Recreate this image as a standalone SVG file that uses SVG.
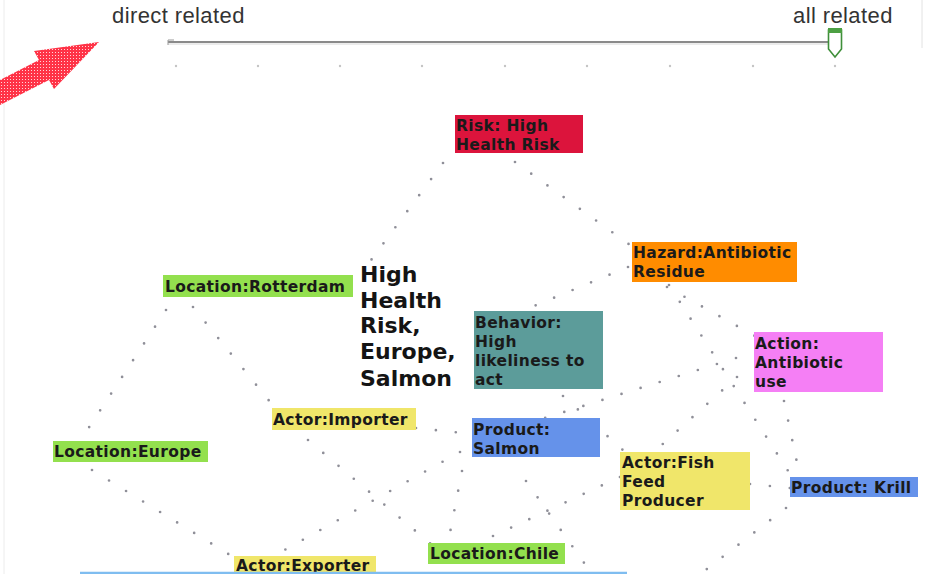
<svg xmlns="http://www.w3.org/2000/svg" width="925" height="574" viewBox="0 0 925 574">
<defs>
<pattern id="hatch" width="3" height="3" patternUnits="userSpaceOnUse">
<rect width="3" height="3" fill="#ff3347"/>
<rect x="1" y="1" width="1" height="1" fill="#ffd6da"/>
</pattern>
<style>
.lbl{font-family:"DejaVu Sans","Verdana",sans-serif;font-weight:bold;font-size:15.5px;letter-spacing:0.35px;fill:#1a1a1a}
.big{font-family:"DejaVu Sans","Verdana",sans-serif;font-weight:bold;font-size:22px;fill:#141414}
.top{font-family:"Liberation Sans","Arial",sans-serif;font-size:22px;letter-spacing:0.4px;fill:#333}
.edge{stroke:#8f8f98;stroke-width:2.7;stroke-linecap:round;stroke-dasharray:0 20;fill:none}
.tick{fill:#c4c4c4}
.green{fill:#93e04e}
.yellow{fill:#f0e66a}
.blue{fill:#6592ea}
</style>
</defs>
<rect width="925" height="574" fill="#ffffff"/>
<line x1="4" y1="0" x2="4" y2="574" stroke="#ececec" stroke-width="1"/>
<line x1="922" y1="0" x2="922" y2="48" stroke="#e2e2e2" stroke-width="1"/>

<g id="slider">
<text class="top" x="112" y="23">direct related</text>
<text class="top" x="793" y="23">all related</text>
<rect x="168" y="41" width="664" height="2" fill="#8a8a8a"/>
<line x1="168" y1="44" x2="832" y2="44" stroke="#d8d8d8" stroke-width="1"/>
<path d="M168,40 h6 M168,40 v5" stroke="#999" stroke-width="1" fill="none"/>
<g class="tick">
<circle cx="176" cy="66" r="1.2"/><circle cx="258" cy="66" r="1.2"/><circle cx="340" cy="66" r="1.2"/>
<circle cx="422" cy="66" r="1.2"/><circle cx="505" cy="66" r="1.2"/><circle cx="587" cy="66" r="1.2"/>
<circle cx="670" cy="66" r="1.2"/><circle cx="753" cy="66" r="1.2"/><circle cx="835" cy="66" r="1.2"/>
</g>
<path d="M828.5,30 h13 v19 l-6.5,8 l-6.5,-8 z" fill="#ffffff" stroke="#3f8f3a" stroke-width="1.6"/>
<rect x="828" y="28" width="14" height="5" fill="#4da043"/>
</g>

<g id="red-arrow">
<polygon points="0,80 39,60 34,51 99,42 54,89 49,80 0,105" fill="url(#hatch)"/>
</g>

<g id="connectors">
<line class="edge" x1="443" y1="163" x2="360" y2="275"/>
<line class="edge" x1="515" y1="162" x2="630" y2="245"/>
<line class="edge" x1="628" y1="267" x2="522" y2="311"/>
<line class="edge" x1="667" y1="287" x2="755" y2="336"/>
<line class="edge" x1="669" y1="285" x2="792" y2="477"/>
<line class="edge" x1="736" y1="358" x2="545" y2="418"/>
<line class="edge" x1="737" y1="377" x2="655" y2="451"/>
<line class="edge" x1="784" y1="401" x2="800" y2="477"/>
<line class="edge" x1="563" y1="396" x2="625" y2="452"/>
<line class="edge" x1="166" y1="310" x2="80" y2="441"/>
<line class="edge" x1="193" y1="307" x2="275" y2="408"/>
<line class="edge" x1="92" y1="470" x2="238" y2="560"/>
<line class="edge" x1="308" y1="440" x2="432" y2="545"/>
<line class="edge" x1="416" y1="428" x2="472" y2="434"/>
<line class="edge" x1="460" y1="452" x2="272" y2="557"/>
<line class="edge" x1="462" y1="471" x2="448" y2="543"/>
<line class="edge" x1="493" y1="536" x2="620" y2="477"/>
<line class="edge" x1="750" y1="484" x2="790" y2="488"/>
<line class="edge" x1="786" y1="508" x2="690" y2="582"/>
<line class="edge" x1="526" y1="481" x2="592" y2="574"/>
</g>

<g id="risk">
<rect x="455" y="115" width="128" height="38" fill="#dc143c"/>
<text class="lbl" x="456" y="131">Risk: High</text>
<text class="lbl" x="456" y="150">Health Risk</text>
</g>
<g id="hazard">
<rect x="632" y="242" width="165" height="40" fill="#ff8c00"/>
<text class="lbl" x="633" y="258">Hazard:Antibiotic</text>
<text class="lbl" x="633" y="277">Residue</text>
</g>
<g id="rotterdam">
<rect class="green" x="163" y="275" width="190" height="22"/>
<text class="lbl" x="165" y="292">Location:Rotterdam</text>
</g>
<g id="title">
<text class="big" x="360" y="282">High</text>
<text class="big" x="360" y="308">Health</text>
<text class="big" x="360" y="333">Risk,</text>
<text class="big" x="360" y="359">Europe,</text>
<text class="big" x="360" y="386">Salmon</text>
</g>
<g id="behavior">
<rect x="474" y="311" width="129" height="78" fill="#5c9c9a"/>
<text class="lbl" x="475" y="328">Behavior:</text>
<text class="lbl" x="475" y="347">High</text>
<text class="lbl" x="475" y="366">likeliness to</text>
<text class="lbl" x="475" y="385">act</text>
</g>
<g id="action">
<rect x="754" y="332" width="129" height="60" fill="#f57ff5"/>
<text class="lbl" x="755" y="349">Action:</text>
<text class="lbl" x="755" y="368">Antibiotic</text>
<text class="lbl" x="755" y="387">use</text>
</g>
<g id="importer">
<rect class="yellow" x="272" y="408" width="144" height="22"/>
<text class="lbl" x="273" y="425">Actor:Importer</text>
</g>
<g id="salmon">
<rect class="blue" x="472" y="418" width="128" height="39"/>
<text class="lbl" x="473" y="435">Product:</text>
<text class="lbl" x="473" y="454">Salmon</text>
</g>
<g id="europe">
<rect class="green" x="53" y="441" width="155" height="21"/>
<text class="lbl" x="54" y="457">Location:Europe</text>
</g>
<g id="fishfeed">
<rect class="yellow" x="620" y="452" width="130" height="58"/>
<text class="lbl" x="622" y="468">Actor:Fish</text>
<text class="lbl" x="622" y="487">Feed</text>
<text class="lbl" x="622" y="506">Producer</text>
</g>
<g id="krill">
<rect class="blue" x="790" y="477" width="128" height="20"/>
<text class="lbl" x="791" y="493">Product: Krill</text>
</g>
<g id="chile">
<rect class="green" x="428" y="543" width="137" height="21"/>
<text class="lbl" x="430" y="559">Location:Chile</text>
</g>
<g id="exporter">
<rect class="yellow" x="234" y="556" width="142" height="20"/>
<text class="lbl" x="236" y="571">Actor:Exporter</text>
</g>
<line x1="80" y1="573" x2="627" y2="573" stroke="#7fbdf0" stroke-width="2.5"/>
</svg>
